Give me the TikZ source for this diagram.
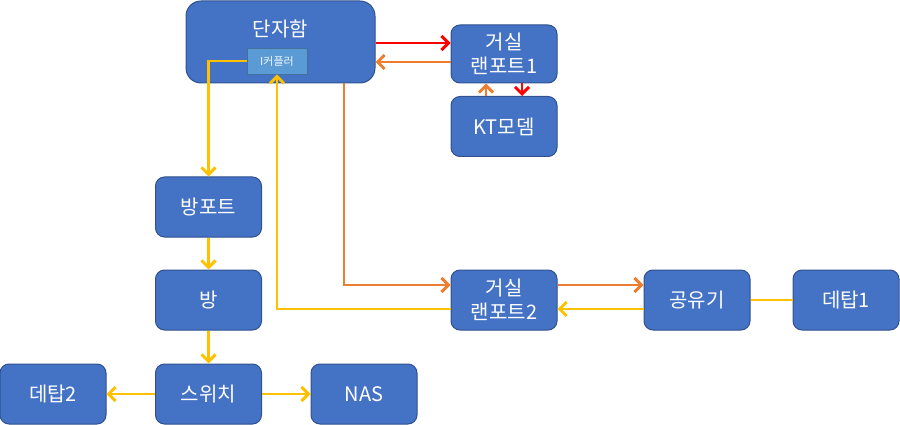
\documentclass[tikz,border=0pt]{standalone}
\usepackage{fontspec}
\setmainfont{Noto Sans CJK KR}
\usepackage{tikz}
\usetikzlibrary{arrows.meta,calc}
\definecolor{boxfill}{HTML}{4472C4}
\definecolor{boxline}{HTML}{2F528F}
\definecolor{cplfill}{HTML}{5B9BD5}
\definecolor{cplline}{HTML}{41719C}
\definecolor{lnred}{HTML}{FF0000}
\definecolor{lnorange}{HTML}{ED7D31}
\definecolor{lnyellow}{HTML}{FFC000}

\begin{document}
\begin{tikzpicture}[x=1pt,y=-1pt,
  blk/.style={draw=boxline,line width=1pt,fill=boxfill,rounded corners=9pt,
              minimum width=106pt,minimum height=60pt,text=white,align=center,
              font=\fontsize{20}{24}\selectfont},
  wire/.style={line width=2.9pt,-{Straight Barb[length=7pt,width=14pt]}},
  plain/.style={line width=2.9pt}]
 \useasboundingbox (0,0) rectangle (900,425);
 % top row
 \node[blk,minimum width=189pt,minimum height=82pt,rounded corners=15pt] (dan) at (280.5,42) {};
 \node[text=white,font=\fontsize{20}{24}\selectfont] (dantxt) at (280.5,29) {단자함};
 \node[draw=cplline,line width=0.8pt,fill=cplfill,minimum width=60pt,minimum height=26pt,
       text=white!90!cplfill,font=\fontsize{11}{13}\selectfont,inner sep=0pt] (cpl) at (277,61) {I커플러};
 \node[blk,minimum height=58pt] (lan1) at (504,54) {거실\\랜포트1};
 \node[blk] (kt) at (504,126.5) {KT모뎀};
 % left column
 \node[blk] (bport) at (208.5,207) {방포트};
 \node[blk] (bang) at (208.5,300) {방};
 \node[blk] (sw) at (208.5,394) {스위치};
 \node[blk] (dt2) at (53,394) {데탑2};
 \node[blk] (nas) at (364,394) {NAS};
 % middle row
 \node[blk] (lan2) at (504,300) {거실\\랜포트2};
 \node[blk] (gong) at (697,300) {공유기};
 \node[blk] (dt1) at (846,300) {데탑1};

 % links
 \draw[wire,lnred] ([yshift=-1pt]dan.east) -- ([yshift=11pt]lan1.west);
 \draw[wire,lnorange] ([yshift=-8pt]lan1.west) -- ([yshift=-20pt]dan.east);
 \draw[wire,lnorange] ([xshift=-18pt]kt.north) -- ([xshift=-18pt]lan1.south);
 \draw[wire,lnred] ([xshift=18pt]lan1.south) -- ([xshift=18pt]kt.north);
 \draw[wire,lnyellow] (cpl.west) -| (bport.north);
 \draw[wire,lnyellow] (bport) -- (bang);
 \draw[wire,lnyellow] (bang) -- (sw);
 \draw[wire,lnyellow] (sw) -- (dt2);
 \draw[wire,lnyellow] (sw) -- (nas);
 \draw[wire,lnorange] ([xshift=63.5pt]dan.south) |- ([yshift=15pt]lan2.west);
 \draw[wire,lnyellow] ([yshift=-9pt]lan2.west) -| (cpl.south);
 \draw[wire,lnorange] ([yshift=15pt]lan2.east) -- ([yshift=15pt]gong.west);
 \draw[wire,lnyellow] ([yshift=-9pt]gong.west) -- ([yshift=-9pt]lan2.east);
 \draw[plain,lnyellow] (gong) -- (dt1);
\end{tikzpicture}
\end{document}
